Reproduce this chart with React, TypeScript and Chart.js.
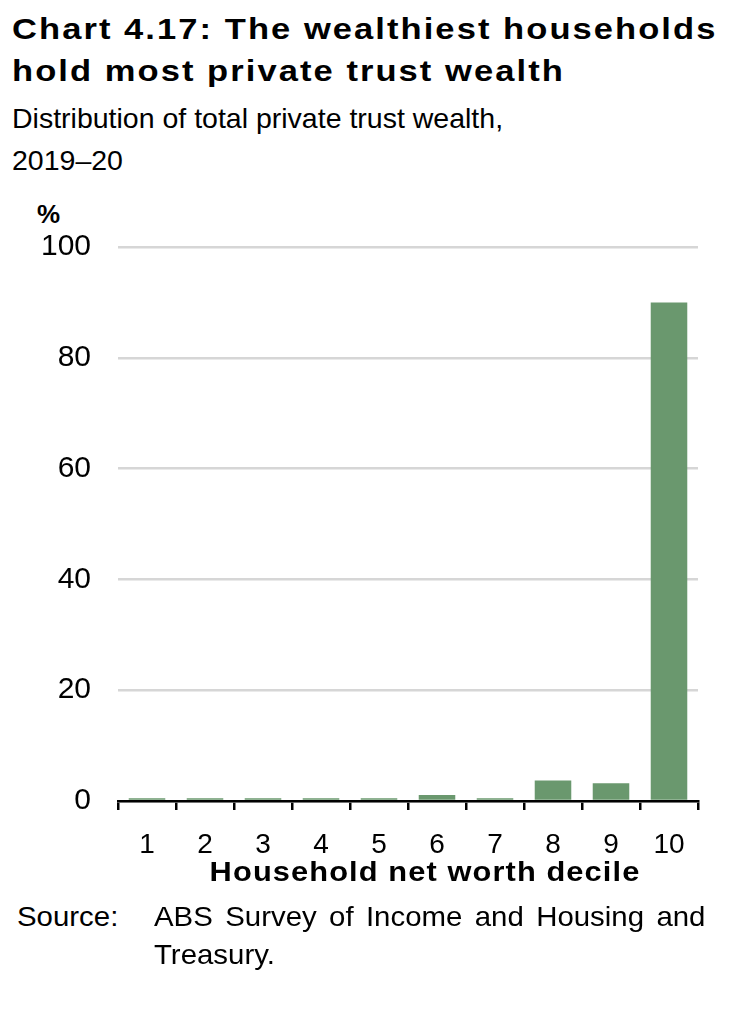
import React, { useEffect, useRef } from "react";
import { Chart, registerables } from "chart.js";

Chart.register(...registerables);

const categories = ["1", "2", "3", "4", "5", "6", "7", "8", "9", "10"];
const shareValues = [0.5, 0.5, 0.5, 0.5, 0.5, 1.1, 0.5, 3.7, 3.2, 90.0];
const yTicks = [0, 20, 40, 60, 80, 100];

const FONT = "'Liberation Sans', Arial, sans-serif";

export default function App() {
  const ref = useRef<HTMLCanvasElement | null>(null);

  useEffect(() => {
    if (!ref.current) return;
    const chart = new Chart(ref.current, {
      type: "bar",
      data: {
        labels: categories,
        datasets: [
          {
            data: shareValues,
            backgroundColor: "#6a986e",
            barPercentage: 0.63,
            categoryPercentage: 1,
          },
        ],
      },
      options: {
        animation: false,
        responsive: false,
        maintainAspectRatio: false,
        layout: { padding: { left: 0, right: 47, top: 57, bottom: 0 } },
        plugins: { legend: { display: false }, tooltip: { enabled: false } },
        scales: {
          x: {
            offset: true,
            grid: {
              offset: true,
              drawOnChartArea: false,
              drawTicks: true,
              tickLength: 9,
              color: "#000",
              lineWidth: 2.5,
            },
            border: { display: true, color: "#000", width: 2.5 },
            ticks: {
              color: "#000",
              font: { family: FONT, size: 28 },
              padding: 18,
              maxRotation: 0,
            },
            afterFit: (s: any) => {
              s.height = 89;
            },
          },
          y: {
            min: 0,
            max: 100,
            afterBuildTicks: (s: any) => {
              s.ticks = yTicks.map((v) => ({ value: v }));
            },
            grid: { color: "#d6d6d6", lineWidth: 2.5, drawTicks: false },
            border: { display: false },
            ticks: {
              color: "#000",
              font: { family: FONT, size: 30 },
              padding: 27,
            },
            afterFit: (s: any) => {
              s.width = 118;
            },
          },
        },
      },
    });
    return () => chart.destroy();
  }, []);

  return (
    <div
      style={{
        position: "absolute",
        left: 0,
        top: 0,
        width: 745,
        height: 1020,
        background: "#fff",
        fontFamily: FONT,
        color: "#000",
      }}
    >
      <div
        style={{
          position: "absolute",
          left: 12,
          top: 8,
          fontSize: 30,
          fontWeight: "bold",
          letterSpacing: "1.8px",
          lineHeight: "42px",
          whiteSpace: "nowrap",
          transform: "scaleX(1.15)",
          transformOrigin: "left top",
        }}
      >
        Chart 4.17: The wealthiest households
        <br />
        hold most private trust wealth
      </div>
      <div
        style={{
          position: "absolute",
          left: 12,
          top: 97,
          fontSize: 28.5,
          lineHeight: "42px",
          whiteSpace: "nowrap",
        }}
      >
        Distribution of total private trust wealth,
        <br />
        2019–20
      </div>
      <div
        style={{
          position: "absolute",
          left: 37,
          top: 199,
          fontSize: 26,
          fontWeight: "bold",
        }}
      >
        %
      </div>
      <canvas
        ref={ref}
        width={745}
        height={700}
        style={{ position: "absolute", left: 0, top: 190, width: 745, height: 700 }}
      />
      <div
        style={{
          position: "absolute",
          left: 425,
          top: 855,
          transform: "translateX(-50%) scaleX(1.1)",
          fontSize: 28,
          fontWeight: "bold",
          letterSpacing: "1px",
          lineHeight: "34px",
          whiteSpace: "nowrap",
        }}
      >
        Household net worth decile
      </div>
      <div
        style={{
          position: "absolute",
          left: 17,
          top: 898,
          fontSize: 28,
          lineHeight: "38px",
          transform: "scaleX(1.05)",
          transformOrigin: "left top",
        }}
      >
        Source:
      </div>
      <div
        style={{
          position: "absolute",
          left: 154,
          top: 898,
          fontSize: 28,
          wordSpacing: "4px",
          lineHeight: "38px",
          whiteSpace: "nowrap",
          transform: "scaleX(1.05)",
          transformOrigin: "left top",
        }}
      >
        ABS Survey of Income and Housing and
        <br />
        Treasury.
      </div>
    </div>
  );
}
